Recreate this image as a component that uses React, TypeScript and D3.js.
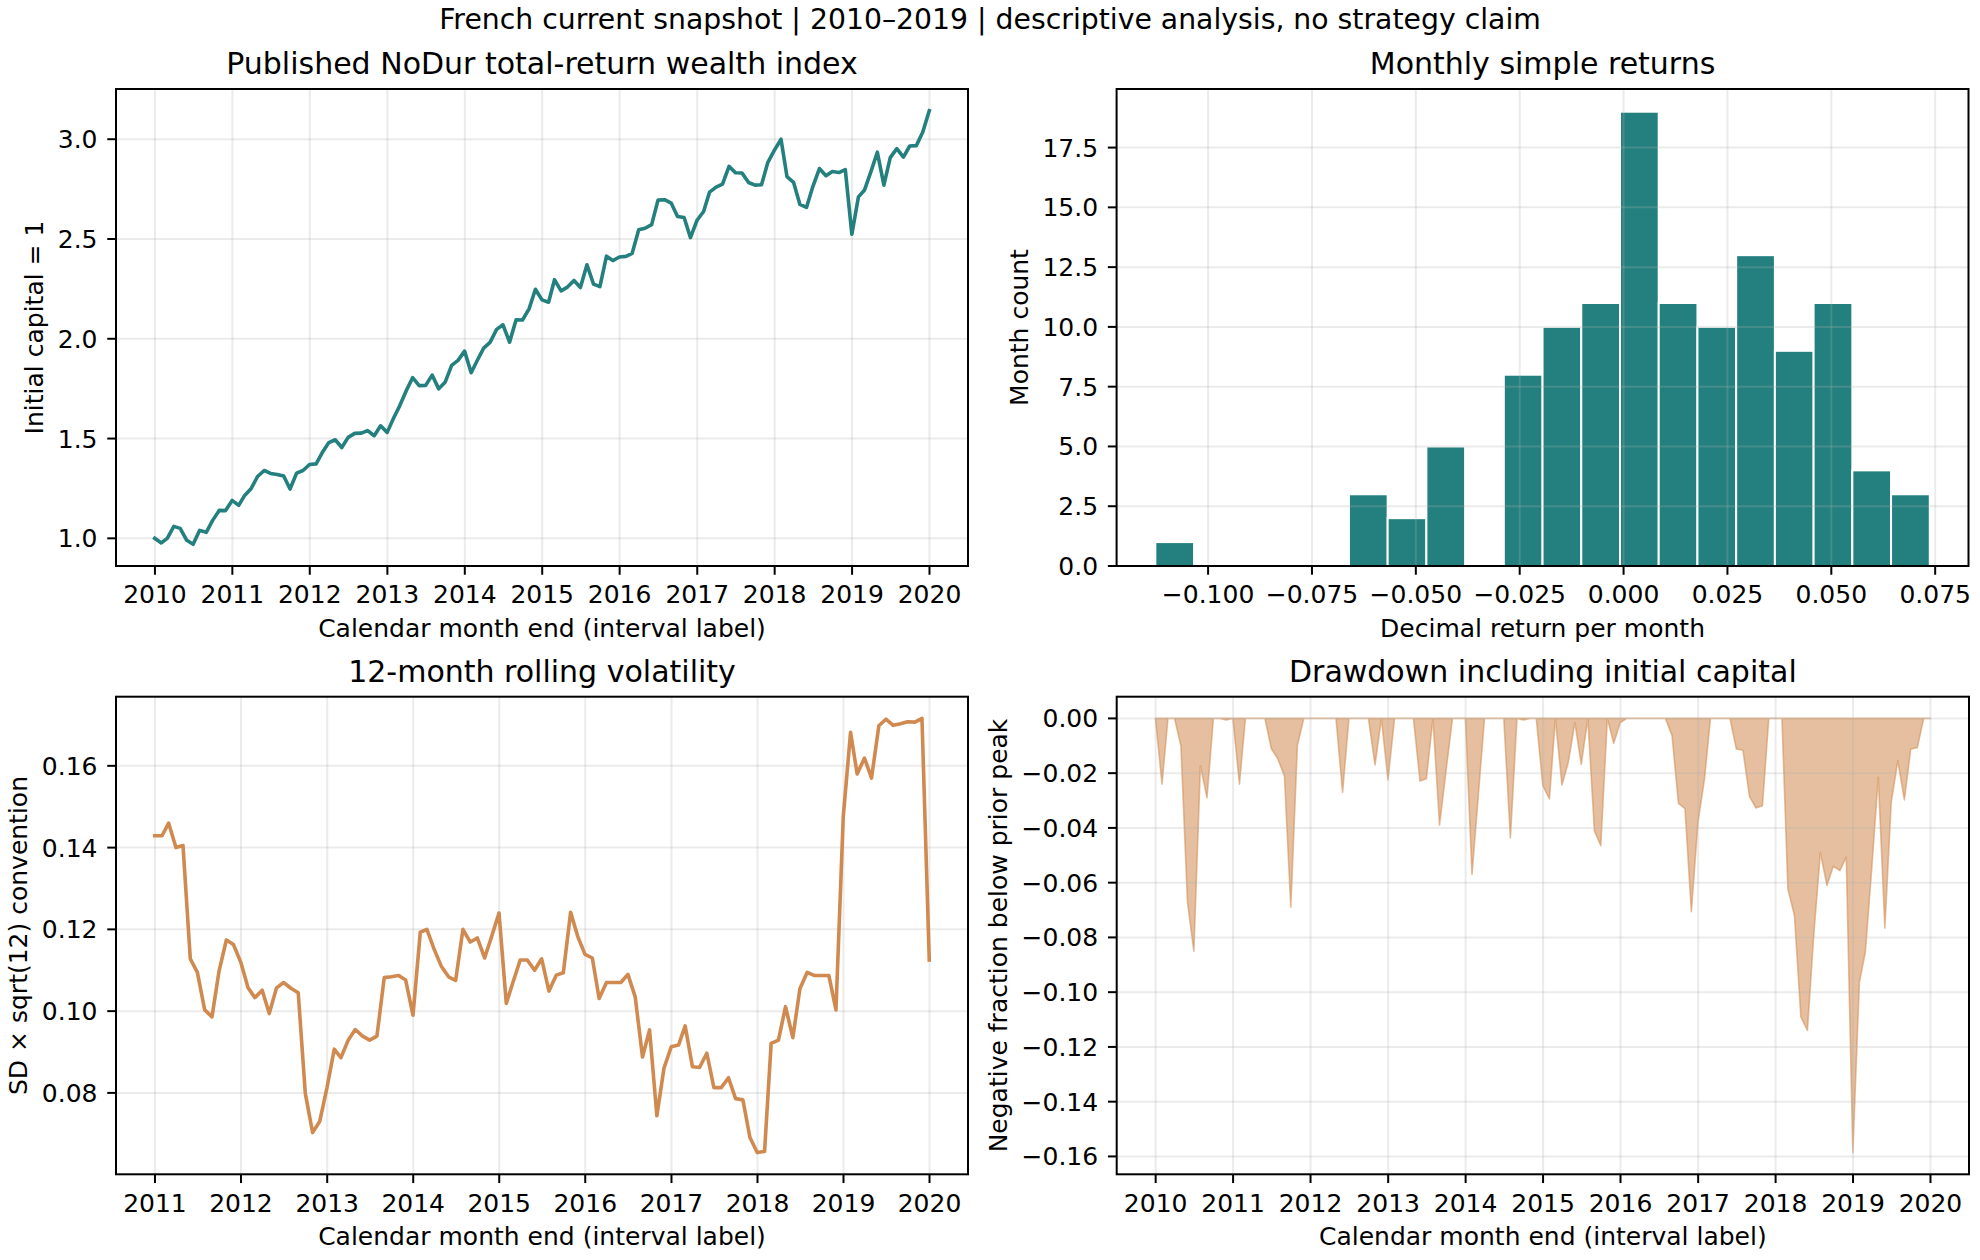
import React, { useEffect, useRef } from 'react';
import * as d3 from 'd3';

const W = 1980;
const H = 1260;
const FONT = '"DejaVu Sans", sans-serif';
const TEAL = '#23807f';
const ORANGE = '#d08a50';

// published NoDur wealth index at month ends, Dec 2009 = 1
const wealth = [
  1.0, 0.977, 1.0, 1.06, 1.05, 0.99, 0.97, 1.04, 1.03, 1.09, 1.14, 1.139,
  1.19, 1.165, 1.215, 1.25, 1.31, 1.34, 1.325, 1.32, 1.312, 1.247, 1.327, 1.34,
  1.37, 1.373, 1.43, 1.48, 1.494, 1.455, 1.506, 1.526, 1.527, 1.54, 1.514, 1.564,
  1.531, 1.604, 1.664, 1.74, 1.805, 1.765, 1.766, 1.818, 1.749, 1.782, 1.867, 1.892,
  1.938, 1.83, 1.89, 1.953, 1.982, 2.047, 2.07, 1.983, 2.095, 2.094, 2.15, 2.248,
  2.195, 2.183, 2.296, 2.24, 2.259, 2.292, 2.257, 2.371, 2.274, 2.261, 2.414, 2.392,
  2.41, 2.413, 2.428, 2.546, 2.554, 2.572, 2.695, 2.697, 2.68, 2.613, 2.608, 2.507,
  2.594, 2.638, 2.735, 2.76, 2.775, 2.864, 2.832, 2.831, 2.783, 2.77, 2.772, 2.884,
  2.945, 3.0, 2.813, 2.784, 2.673, 2.658, 2.763, 2.853, 2.817, 2.838, 2.833, 2.848,
  2.524, 2.711, 2.744, 2.838, 2.935, 2.77, 2.908, 2.953, 2.91, 2.966, 2.968, 3.035,
  3.143,
];

// 12-month rolling volatility, Dec 2010 .. Dec 2019
const rollingVol = [
  0.1429, 0.1429, 0.146, 0.14, 0.1405, 0.1128, 0.1095, 0.1003, 0.0986, 0.1098,
  0.1174, 0.1163, 0.112, 0.1057, 0.1033, 0.1051, 0.0994, 0.1057, 0.107, 0.1056,
  0.1045, 0.0799, 0.0703, 0.073, 0.0813, 0.0907, 0.0886, 0.0929, 0.0955, 0.0939,
  0.0929, 0.0939, 0.1082, 0.1084, 0.1087, 0.1076, 0.099, 0.1193, 0.12, 0.1151,
  0.111, 0.1084, 0.1075, 0.12, 0.1169, 0.1179, 0.113, 0.1183, 0.124, 0.1019,
  0.107, 0.1125, 0.1125, 0.11, 0.1128, 0.1049, 0.1088, 0.1094, 0.1242, 0.1183,
  0.1139, 0.113, 0.1031, 0.107, 0.107, 0.107, 0.109, 0.1035, 0.0888, 0.0954,
  0.0744, 0.086, 0.0913, 0.0917, 0.0964, 0.0864, 0.0862, 0.0897, 0.0813, 0.0813,
  0.0837, 0.0786, 0.0783, 0.0691, 0.0654, 0.0657, 0.0921, 0.0929, 0.1011, 0.0935,
  0.1055, 0.1095, 0.1087, 0.1087, 0.1087, 0.1003, 0.1476, 0.1682, 0.158, 0.1619,
  0.157, 0.1698, 0.1714, 0.1699, 0.1703, 0.1708, 0.1707, 0.1716, 0.1125,
];

// fraction below running peak, Dec 2009 .. Dec 2019
const drawdown = [
  0, -0.024, 0, 0, -0.01, -0.067, -0.085, -0.0173, -0.029, 0, 0, -0.0006,
  0, -0.024, 0, 0, 0, 0, -0.011, -0.0148, -0.021, -0.069, -0.01, 0,
  0, 0, 0, 0, 0, -0.027, 0, 0, 0, 0, -0.017, 0,
  -0.0225, 0, 0, 0, 0, -0.0229, -0.022, 0, -0.039, -0.0196, 0, 0,
  0, -0.057, -0.03, 0, 0, 0, 0, -0.0437, 0, -0.0006, 0, 0,
  -0.0246, -0.0294, 0, -0.0243, -0.016, -0.0015, -0.0168, 0, -0.041, -0.0465, 0, -0.0091,
  -0.0015, 0, 0, 0, 0, 0, 0, 0, -0.0063, -0.031, -0.033, -0.0706,
  -0.038, -0.022, 0, 0, 0, 0, -0.0112, -0.0116, -0.0285, -0.0327, -0.0319, 0,
  0, 0, -0.0623, -0.072, -0.109, -0.114, -0.079, -0.049, -0.061, -0.054, -0.0556, -0.0507,
  -0.1586, -0.0964, -0.0854, -0.054, -0.0215, -0.0766, -0.0307, -0.0155, -0.0298, -0.0112, -0.0107, 0,
  0,
];

// monthly return histogram: 20 equal bins between the extremes
const returnMin = -0.1127;
const returnMax = 0.0737;
const binCounts = [1, 0, 0, 0, 0, 3, 2, 5, 0, 8, 10, 11, 19, 11, 10, 13, 9, 11, 4, 3];

const wealthYears = [2010, 2011, 2012, 2013, 2014, 2015, 2016, 2017, 2018, 2019, 2020];
const volYears = [2011, 2012, 2013, 2014, 2015, 2016, 2017, 2018, 2019, 2020];
const wealthTicks = [1.0, 1.5, 2.0, 2.5, 3.0];
const countTicks = [0, 2.5, 5, 7.5, 10, 12.5, 15, 17.5];
const returnTicks = [-0.1, -0.075, -0.05, -0.025, 0, 0.025, 0.05, 0.075];
const volTicks = [0.08, 0.1, 0.12, 0.14, 0.16];
const ddTicks = [0, -0.02, -0.04, -0.06, -0.08, -0.1, -0.12, -0.14, -0.16];

const boxes = {
  tl: { x0: 116, x1: 968, y0: 89, y1: 566 },
  tr: { x0: 1116.6, x1: 1968.5, y0: 89, y1: 566 },
  bl: { x0: 116, x1: 968, y0: 696.7, y1: 1174.3 },
  br: { x0: 1116.7, x1: 1969, y0: 696.7, y1: 1174.3 },
};

// month end k months after Dec 2009
const monthEnd = (k: number) => new Date(Date.UTC(2009, 12 + k, 0));
const yearStart = (y: number) => new Date(Date.UTC(y, 0, 1));

// matplotlib-style 5% margins
function padded(lo: number, hi: number): [number, number] {
  const m = (hi - lo) * 0.05;
  return [lo - m, hi + m];
}

function panel(svg: any, box: any, x: any, y: any, o: any) {
  const { x0, x1, y0, y1 } = box;
  const g = svg.append('g');
  const under = g.append('g');
  const grid = g.append('g').attr('stroke', '#b0b0b0').attr('stroke-opacity', 0.25).attr('stroke-width', 2);
  const over = g.append('g');
  const frame = g.append('g');

  o.xTicks.forEach((t: any) => {
    const px = x(t);
    grid.append('line').attr('x1', px).attr('x2', px).attr('y1', y0).attr('y2', y1);
    frame.append('line').attr('x1', px).attr('x2', px).attr('y1', y1).attr('y2', y1 + 8.75)
      .attr('stroke', '#000').attr('stroke-width', 2);
    frame.append('text').attr('x', px).attr('y', y1 + 37.3).attr('text-anchor', 'middle')
      .attr('font-size', 25).text(o.xFmt(t));
  });
  o.yTicks.forEach((t: number) => {
    const py = y(t);
    grid.append('line').attr('x1', x0).attr('x2', x1).attr('y1', py).attr('y2', py);
    frame.append('line').attr('x1', x0 - 8.75).attr('x2', x0).attr('y1', py).attr('y2', py)
      .attr('stroke', '#000').attr('stroke-width', 2);
    frame.append('text').attr('x', x0 - 18.5).attr('y', py + 9).attr('text-anchor', 'end')
      .attr('font-size', 25).text(o.yFmt(t));
  });

  frame.append('rect').attr('x', x0).attr('y', y0).attr('width', x1 - x0).attr('height', y1 - y0)
    .attr('fill', 'none').attr('stroke', '#000').attr('stroke-width', 2);

  frame.append('text').attr('x', (x0 + x1) / 2).attr('y', y0 - 15).attr('text-anchor', 'middle')
    .attr('font-size', 30).text(o.title);
  frame.append('text').attr('x', (x0 + x1) / 2).attr('y', y1 + 71).attr('text-anchor', 'middle')
    .attr('font-size', 25).text(o.xLabel);
  frame.append('text')
    .attr('transform', `translate(${x0 - o.yLabelOffset},${(y0 + y1) / 2}) rotate(-90)`)
    .attr('text-anchor', 'middle').attr('font-size', 25).text(o.yLabel);

  return { under, over };
}

function draw(svg: any) {
  svg.append('rect').attr('width', W).attr('height', H).attr('fill', '#fff');
  svg.attr('font-family', FONT).attr('fill', '#000');

  svg.append('text').attr('x', W / 2).attr('y', 29).attr('text-anchor', 'middle')
    .attr('font-size', 28.3)
    .text('French current snapshot | 2010–2019 | descriptive analysis, no strategy claim');

  const yearFmt = (d: Date) => String(d.getUTCFullYear());
  const wealthDates = wealth.map((_, i) => monthEnd(i));
  const volDates = rollingVol.map((_, i) => monthEnd(i + 12));

  // wealth index
  {
    const b = boxes.tl;
    const [d0, d1] = padded(+wealthDates[0], +wealthDates[wealthDates.length - 1]);
    const x = d3.scaleUtc().domain([new Date(d0), new Date(d1)]).range([b.x0, b.x1]);
    const ext = d3.extent(wealth) as [number, number];
    const y = d3.scaleLinear().domain(padded(ext[0], ext[1])).range([b.y1, b.y0]);
    const p = panel(svg, b, x, y, {
      xTicks: wealthYears.map(yearStart), yTicks: wealthTicks,
      xFmt: yearFmt, yFmt: d3.format('.1f'),
      title: 'Published NoDur total-return wealth index',
      xLabel: 'Calendar month end (interval label)',
      yLabel: 'Initial capital = 1', yLabelOffset: 73,
    });
    const line = d3.line<number>().x((_, i) => x(wealthDates[i])).y(v => y(v));
    p.over.append('path').attr('d', line(wealth)).attr('fill', 'none').attr('stroke', TEAL)
      .attr('stroke-width', 3.6).attr('stroke-linejoin', 'round').attr('stroke-linecap', 'square');
  }

  // return histogram
  {
    const b = boxes.tr;
    const x = d3.scaleLinear().domain(padded(returnMin, returnMax)).range([b.x0, b.x1]);
    const y = d3.scaleLinear().domain([0, (d3.max(binCounts) as number) * 1.05]).range([b.y1, b.y0]);
    const p = panel(svg, b, x, y, {
      xTicks: returnTicks, yTicks: countTicks,
      xFmt: d3.format('.3f'), yFmt: d3.format('.1f'),
      title: 'Monthly simple returns',
      xLabel: 'Decimal return per month',
      yLabel: 'Month count', yLabelOffset: 88.5,
    });
    const width = (returnMax - returnMin) / binCounts.length;
    const bins = binCounts.map((c, i) => ({ lo: returnMin + i * width, hi: returnMin + (i + 1) * width, c }))
      .filter(d => d.c > 0);
    p.under.selectAll('rect').data(bins).enter().append('rect')
      .attr('x', d => x(d.lo)).attr('width', d => x(d.hi) - x(d.lo))
      .attr('y', d => y(d.c)).attr('height', d => y(0) - y(d.c))
      .attr('fill', TEAL).attr('stroke', '#fff').attr('stroke-width', 2);
  }

  // rolling volatility
  {
    const b = boxes.bl;
    const [d0, d1] = padded(+volDates[0], +volDates[volDates.length - 1]);
    const x = d3.scaleUtc().domain([new Date(d0), new Date(d1)]).range([b.x0, b.x1]);
    const ext = d3.extent(rollingVol) as [number, number];
    const y = d3.scaleLinear().domain(padded(ext[0], ext[1])).range([b.y1, b.y0]);
    const p = panel(svg, b, x, y, {
      xTicks: volYears.map(yearStart), yTicks: volTicks,
      xFmt: yearFmt, yFmt: d3.format('.2f'),
      title: '12-month rolling volatility',
      xLabel: 'Calendar month end (interval label)',
      yLabel: 'SD × sqrt(12) convention', yLabelOffset: 89,
    });
    const line = d3.line<number>().x((_, i) => x(volDates[i])).y(v => y(v));
    p.over.append('path').attr('d', line(rollingVol)).attr('fill', 'none').attr('stroke', ORANGE)
      .attr('stroke-width', 3.6).attr('stroke-linejoin', 'round').attr('stroke-linecap', 'square');
  }

  // drawdown
  {
    const b = boxes.br;
    const [d0, d1] = padded(+wealthDates[0], +wealthDates[wealthDates.length - 1]);
    const x = d3.scaleUtc().domain([new Date(d0), new Date(d1)]).range([b.x0, b.x1]);
    const ext = d3.extent(drawdown) as [number, number];
    const y = d3.scaleLinear().domain(padded(ext[0], ext[1])).range([b.y1, b.y0]);
    const p = panel(svg, b, x, y, {
      xTicks: wealthYears.map(yearStart), yTicks: ddTicks,
      xFmt: yearFmt, yFmt: d3.format('.2f'),
      title: 'Drawdown including initial capital',
      xLabel: 'Calendar month end (interval label)',
      yLabel: 'Negative fraction below prior peak', yLabelOffset: 110,
    });
    const area = d3.area<number>().x((_, i) => x(wealthDates[i])).y0(y(0)).y1(v => y(v));
    p.under.append('path').attr('d', area(drawdown))
      .attr('fill', ORANGE).attr('fill-opacity', 0.55)
      .attr('stroke', ORANGE).attr('stroke-opacity', 0.55).attr('stroke-width', 1.6)
      .attr('stroke-linejoin', 'round');
  }
}

const App = () => {
  const ref = useRef<SVGSVGElement>(null);

  useEffect(() => {
    const svg = d3.select(ref.current);
    svg.selectAll('*').remove();
    draw(svg);
  }, []);

  return (
    <svg
      ref={ref}
      width={W}
      height={H}
      style={{ position: 'absolute', left: 0, top: 0, display: 'block' }}
    />
  );
};

export default App;
